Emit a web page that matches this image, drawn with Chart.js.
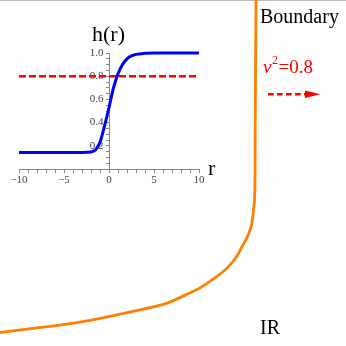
<!DOCTYPE html>
<html><head><meta charset="utf-8">
<script src="https://cdn.jsdelivr.net/npm/chart.js@4/dist/chart.umd.min.js"></script>
<style>
html,body{margin:0;padding:0;background:#fff;}
#wrap{position:relative;width:346px;height:346px;overflow:hidden;background:#fff;}
canvas{position:absolute;left:0;top:0;}
#topline{position:absolute;left:0;top:0;width:346px;height:1px;background:#bdbdbd;}
</style></head><body>
<div id="wrap"><div id="topline"></div>
<canvas id="outer" width="346" height="346"></canvas>
<canvas id="inset" width="346" height="346"></canvas></div>
<script>
// Outer flow curve (abstract units 0..100 on both axes)
const flowX = [0, 9.5, 19.4, 28.9, 38.4, 48.3, 53.5, 57.8, 61.3, 65.9, 68.5, 69.9, 71.7, 72.8, 73.4, 73.7, 73.8, 74.0];
const flowY = [3.9, 5.1, 6.3, 8.0, 10.0, 12.4, 14.7, 16.8, 19.1, 22.8, 26.0, 28.6, 32.1, 35.5, 40.5, 48.0, 71.1, 100];
// Inset profile h(r)
const rValues = [-10, -8, -6, -4, -3, -2, -1.5, -1.2, -1, -0.5, 0, 0.5, 1, 1.5, 2, 2.5, 3, 4, 5, 6, 8, 10];
const hValues = [0.143, 0.143, 0.143, 0.143, 0.143, 0.147, 0.165, 0.2, 0.23, 0.37, 0.53, 0.7, 0.82, 0.9, 0.95, 0.975, 0.988, 0.997, 1.0, 1.0, 1.0, 1.0];
const velocitySquared = 0.8;
const rRange = [-10, 10];
const xTickLabels = [-10, -5, 0, 5, 10];
const yTickLabels = [0.2, 0.4, 0.6, 0.8, 1.0];
const labels = {boundary: 'Boundary', ir: 'IR', hAxis: 'h(r)', rAxis: 'r'};

const serif = "'Liberation Serif', 'DejaVu Serif', serif";

const outerText = {
  id: 'outerText',
  afterDatasetsDraw(chart) {
    const ctx = chart.ctx;
    ctx.save();
    ctx.fillStyle = '#000';
    ctx.textBaseline = 'alphabetic';
    ctx.textAlign = 'left';
    ctx.font = '20px ' + serif;
    ctx.fillText(labels.boundary, 260, 23);
    ctx.fillText(labels.ir, 260, 334);
    // nu^2 = 0.8
    ctx.fillStyle = '#ff0000';
    ctx.font = 'italic 19px ' + serif;
    let x = 263;
    ctx.fillText('\u03BD', x, 73);
    x += ctx.measureText('\u03BD').width + 0.5;
    ctx.font = '12px ' + serif;
    ctx.fillText('2', x, 64);
    x += ctx.measureText('2').width + 0.5;
    ctx.font = '19px ' + serif;
    ctx.fillText('=' + velocitySquared.toFixed(1), x, 73);
    // dashed arrow
    ctx.strokeStyle = '#ff0000';
    ctx.lineWidth = 2.5;
    ctx.setLineDash([5.7, 3.3]);
    ctx.beginPath();
    ctx.moveTo(268, 94.3);
    ctx.lineTo(307, 94.3);
    ctx.stroke();
    ctx.setLineDash([]);
    ctx.beginPath();
    ctx.moveTo(305, 90.5);
    ctx.lineTo(320.5, 94.3);
    ctx.lineTo(305, 98.1);
    ctx.closePath();
    ctx.fill();
    ctx.restore();
  }
};

new Chart(document.getElementById('outer'), {
  type: 'scatter',
  data: {datasets: [{
    data: flowX.map((x, i) => ({x, y: flowY[i]})),
    showLine: true, borderColor: '#ff8000', borderWidth: 2.8,
    pointRadius: 0, cubicInterpolationMode: 'monotone', clip: false, fill: false
  }]},
  options: {
    responsive: false, animation: false, devicePixelRatio: 1,
    layout: {padding: 0},
    plugins: {legend: {display: false}, tooltip: {enabled: false}},
    scales: {
      x: {type: 'linear', min: 0, max: 100, display: false},
      y: {type: 'linear', min: 0, max: 100, display: false}
    }
  },
  plugins: [outerText]
});

const insetText = {
  id: 'insetText',
  afterDraw(chart) {
    const ctx = chart.ctx;
    const a = chart.chartArea;
    ctx.save();
    ctx.fillStyle = '#000';
    ctx.textBaseline = 'alphabetic';
    ctx.textAlign = 'left';
    ctx.font = '22px ' + serif;
    ctx.fillText(labels.hAxis, 92, 41);
    ctx.fillText(labels.rAxis, a.right + 9, 175);
    ctx.restore();
  }
};

const fmtX = v => (v < 0 ? '\u2212' + Math.abs(v) : String(v));

new Chart(document.getElementById('inset'), {
  type: 'scatter',
  data: {datasets: [
    {data: rValues.map((r, i) => ({x: r, y: hValues[i]})), showLine: true,
     borderColor: '#0000ff', borderWidth: 3, pointRadius: 0, cubicInterpolationMode: 'monotone', clip: false},
    {data: rRange.map(r => ({x: r, y: velocitySquared})), showLine: true,
     borderColor: '#ff0000', borderWidth: 2.5, borderDash: [7, 3], pointRadius: 0, clip: false}
  ]},
  options: {
    responsive: false, animation: false, devicePixelRatio: 1,
    layout: {padding: {left: 19, right: 147, top: 53, bottom: 177}},
    plugins: {legend: {display: false}, tooltip: {enabled: false}},
    scales: {
      x: {type: 'linear', min: rRange[0], max: rRange[1], position: {y: 0},
        grid: {drawOnChartArea: false, drawTicks: true, tickLength: 3, color: '#888'},
        border: {display: true, color: '#888', width: 1},
        ticks: {stepSize: 1, autoSkip: false, maxRotation: 0, padding: 2, color: '#444',
          font: {family: serif, size: 11},
          callback: v => xTickLabels.includes(v) ? fmtX(v) : ''}
      },
      y: {type: 'linear', min: 0, max: 1, position: {x: 0},
        grid: {drawOnChartArea: false, drawTicks: true, tickLength: 3, color: '#888'},
        border: {display: true, color: '#888', width: 1},
        ticks: {stepSize: 0.05, autoSkip: false, padding: 2, color: '#444',
          font: {family: serif, size: 11},
          callback: v => {
            const hit = yTickLabels.find(t => Math.abs(t - v) < 1e-6);
            return hit !== undefined ? hit.toFixed(1) + '\u2002' : '';
          }}
      }
    }
  },
  plugins: [insetText]
});
</script>
</body></html>
